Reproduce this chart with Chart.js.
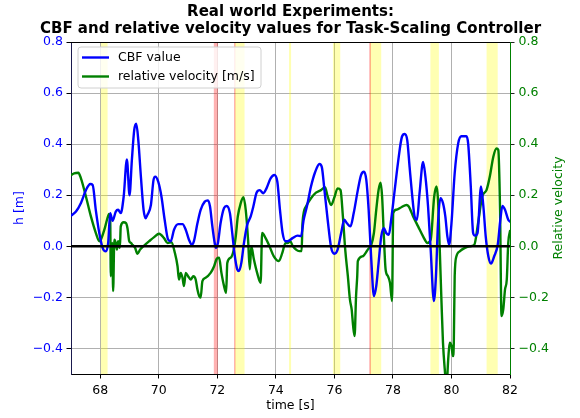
<!DOCTYPE html>
<html>
<head>
<meta charset="utf-8">
<script src="https://cdn.jsdelivr.net/npm/chart.js@4.4.1/dist/chart.umd.min.js"></script>
<style>
html,body{margin:0;padding:0;background:#fff;}
#c{display:block;}
</style>
</head>
<body>
<canvas id="c" width="580" height="418"></canvas>
<script>
// ---------------- data ----------------
const titleLines = ["Real world Experiments:", "CBF and relative velocity values for Task-Scaling Controller"];
const xTickValues = [68, 70, 72, 74, 76, 78, 80, 82];
const yTickValues = [-0.4, -0.2, 0.0, 0.2, 0.4, 0.6, 0.8];

const cbfTime = [67.0,67.17,67.34,67.51,67.66,67.74,67.85,67.97,68.08,68.19,68.27,68.34,68.42,68.53,68.61,68.70,68.80,68.91,69.00,69.08,69.16,69.23,69.30,69.39,69.48,69.55,69.61,69.73,69.82,69.88,69.98,70.09,70.20,70.32,70.41,70.52,70.66,70.81,70.92,71.03,71.13,71.20,71.32,71.43,71.57,71.68,71.75,71.83,71.91,71.95,72.02,72.11,72.23,72.32,72.43,72.51,72.59,72.68,72.74,72.82,72.91,73.02,73.14,73.23,73.34,73.45,73.57,73.68,73.82,73.95,74.05,74.14,74.23,74.33,74.40,74.57,74.74,74.86,74.95,75.06,75.20,75.34,75.49,75.57,75.66,75.77,75.89,76.00,76.11,76.23,76.34,76.43,76.55,76.66,76.80,76.91,77.01,77.09,77.17,77.26,77.35,77.43,77.51,77.60,77.69,77.77,77.86,77.94,78.06,78.17,78.31,78.40,78.49,78.57,78.65,78.74,78.82,78.91,79.03,79.11,79.20,79.29,79.40,79.47,79.54,79.62,79.71,79.79,79.86,79.92,80.00,80.11,80.23,80.34,80.51,80.57,80.66,80.74,80.80,80.89,81.01,81.09,81.17,81.26,81.35,81.46,81.58,81.67,81.74,81.83,81.94,82.00];
const cbfValue = [0.12,0.136,0.17,0.22,0.244,0.24,0.14,0.05,-0.006,-0.02,0.013,0.13,0.10,0.136,0.143,0.13,0.195,0.34,0.20,0.338,0.455,0.48,0.415,0.27,0.143,0.11,0.123,0.162,0.26,0.273,0.253,0.195,0.104,0.026,0.02,0.065,0.087,0.087,0.065,0.026,0.006,0.02,0.09,0.143,0.175,0.18,0.156,0.078,0.013,-0.006,0.013,0.09,0.15,0.158,0.13,0.052,-0.032,-0.09,-0.097,-0.065,0.013,0.084,0.117,0.156,0.21,0.22,0.208,0.227,0.266,0.279,0.253,0.143,0.052,0.02,0.02,0.032,0.042,0.04,0.104,0.156,0.234,0.29,0.322,0.31,0.22,0.104,-0.006,-0.029,-0.013,0.052,0.104,0.09,0.078,0.13,0.22,0.279,0.292,0.26,0.143,-0.052,-0.195,-0.156,-0.065,0.039,0.071,0.052,0.045,0.104,0.22,0.325,0.43,0.44,0.415,0.31,0.208,0.117,0.104,0.208,0.33,0.273,0.156,-0.013,-0.214,-0.117,0.09,0.188,0.169,0.117,0.039,0.006,0.09,0.286,0.403,0.431,0.431,0.403,0.234,0.052,0.042,0.052,0.234,0.156,0.039,-0.039,-0.068,-0.039,0.006,0.104,0.158,0.143,0.104,0.097];

const velTime = [67.0,67.11,67.25,67.34,67.51,67.68,67.85,67.97,68.02,68.14,68.23,68.30,68.34,68.36,68.41,68.44,68.48,68.53,68.57,68.61,68.67,68.70,68.80,68.88,68.93,68.99,69.05,69.10,69.19,69.27,69.36,69.50,69.67,69.84,70.01,70.18,70.30,70.43,70.55,70.64,70.69,70.75,70.81,70.86,70.92,71.00,71.09,71.18,71.26,71.32,71.38,71.43,71.49,71.60,71.77,71.89,71.98,72.06,72.14,72.23,72.30,72.34,72.45,72.55,72.63,72.70,72.80,72.89,72.97,73.05,73.11,73.16,73.25,73.36,73.48,73.53,73.65,73.76,73.93,74.10,74.22,74.33,74.40,74.49,74.57,74.69,74.80,74.88,74.91,75.03,75.20,75.37,75.54,75.68,75.77,75.89,76.00,76.11,76.21,76.29,76.37,76.46,76.53,76.59,76.64,76.69,76.74,76.78,76.80,76.97,77.14,77.26,77.35,77.43,77.51,77.58,77.63,77.69,77.75,77.83,77.90,77.97,78.01,78.11,78.29,78.46,78.54,78.69,78.86,79.03,79.18,79.29,79.41,79.49,79.54,79.60,79.66,79.71,79.77,79.83,79.89,79.94,80.00,80.05,80.08,80.11,80.17,80.29,80.46,80.63,80.78,80.91,81.05,81.20,81.31,81.43,81.54,81.60,81.66,81.71,81.77,81.83,81.89,81.94,82.00];
const velValue = [0.279,0.286,0.288,0.266,0.195,0.117,0.052,0.02,0.026,0.065,0.104,0.127,0.104,-0.117,0.013,-0.175,0.026,0.013,-0.013,0.02,-0.006,0.078,0.094,0.091,0.071,0.02,0.013,0.006,-0.006,-0.029,-0.013,0.003,0.02,0.036,0.049,0.032,0.013,0.016,-0.026,-0.078,-0.13,-0.104,-0.123,-0.156,-0.104,-0.117,-0.13,-0.117,-0.13,-0.169,-0.195,-0.201,-0.136,-0.123,-0.104,-0.078,-0.049,-0.045,-0.104,-0.156,-0.182,-0.065,-0.045,-0.019,0.039,0.117,0.169,0.192,0.143,0.026,-0.09,0.0,-0.052,-0.104,-0.143,0.052,0.032,0.006,-0.039,-0.058,-0.026,0.013,0.013,0.02,0.003,-0.013,-0.019,-0.019,0.091,0.156,0.188,0.21,0.22,0.231,0.195,0.162,0.192,0.227,0.22,0.117,-0.013,-0.117,-0.208,-0.247,-0.312,-0.351,-0.195,-0.117,-0.058,-0.039,-0.013,0.006,0.052,0.143,0.221,0.249,0.195,0.039,-0.091,-0.117,-0.143,-0.214,0.13,0.143,0.153,0.162,0.156,0.117,0.078,0.039,0.013,0.026,0.195,0.234,0.182,-0.013,-0.221,-0.377,-0.48,-0.55,-0.44,-0.377,-0.39,-0.43,-0.377,-0.117,-0.039,-0.019,-0.006,0.0,0.006,0.091,0.195,0.221,0.273,0.351,0.383,0.377,0.143,-0.273,-0.247,-0.169,-0.13,0.013,0.06];

const yellowStart = [68.02, 72.60, 74.45, 75.95, 77.22, 79.28, 81.20];
const yellowEnd   = [68.25, 72.93, 74.52, 76.20, 77.60, 79.57, 81.58];
const redStart = [71.88, 72.57, 77.19];
const redEnd   = [72.02, 72.62, 77.25];

// ---------------- drawing ----------------
const FONT = "'DejaVu Sans', 'Liberation Sans', sans-serif";
const BLUE = '#0000ff';
const GREEN = '#008000';

function pts(xs, ys){ return xs.map((x,i)=>({x:x, y:ys[i]})); }

const decor = {
  id: 'decor',
  beforeDatasetsDraw(chart){
    const {ctx, chartArea:a, scales:{x}} = chart;
    ctx.save();
    ctx.beginPath(); ctx.rect(a.left, a.top, a.right-a.left, a.bottom-a.top); ctx.clip();
    ctx.fillStyle = 'rgba(255,255,0,0.3)';
    yellowStart.forEach((s,i)=>{
      const x1 = x.getPixelForValue(s), x2 = x.getPixelForValue(yellowEnd[i]);
      ctx.fillRect(x1, a.top, x2-x1, a.bottom-a.top);
    });
    ctx.fillStyle = 'rgba(255,0,0,0.3)';
    redStart.forEach((s,i)=>{
      const x1 = x.getPixelForValue(s), x2 = x.getPixelForValue(redEnd[i]);
      ctx.fillRect(x1, a.top, x2-x1, a.bottom-a.top);
    });
    ctx.restore();
  },
  afterDatasetsDraw(chart){
    const {ctx, chartArea:a, scales:{y}} = chart;
    const y0 = y.getPixelForValue(0);
    ctx.save();
    ctx.strokeStyle = '#000'; ctx.lineWidth = 2.5;
    ctx.beginPath(); ctx.moveTo(a.left, y0); ctx.lineTo(a.right, y0); ctx.stroke();
    ctx.restore();
  },
  afterDraw(chart){
    const {ctx, chartArea:a} = chart;
    ctx.save();
    // top spine
    ctx.strokeStyle = '#000'; ctx.lineWidth = 1;
    ctx.beginPath(); ctx.moveTo(a.left, a.top+0.5); ctx.lineTo(a.right, a.top+0.5); ctx.stroke();
    // title
    const cx = (a.left + a.right)/2;
    ctx.fillStyle = '#000';
    ctx.font = 'bold 15px ' + FONT;
    ctx.textAlign = 'center'; ctx.textBaseline = 'middle';
    ctx.fillText(titleLines[0], cx, 12);
    ctx.fillText(titleLines[1], cx, 29);
    // axis titles
    ctx.font = '12.5px ' + FONT;
    ctx.fillStyle = '#000';
    ctx.fillText('time [s]', cx, 406);
    const cy = (a.top + a.bottom)/2;
    ctx.save(); ctx.translate(20, cy); ctx.rotate(-Math.PI/2);
    ctx.fillStyle = BLUE; ctx.fillText('h [m]', 0, 0); ctx.restore();
    ctx.save(); ctx.translate(559, cy); ctx.rotate(-Math.PI/2);
    ctx.fillStyle = GREEN; ctx.fillText('Relative velocity', 0, 0); ctx.restore();
    // legend
    const lx = 78, ly = 47, lw = 183, lh = 41, r = 3;
    ctx.beginPath();
    ctx.moveTo(lx+r, ly); ctx.lineTo(lx+lw-r, ly); ctx.arcTo(lx+lw, ly, lx+lw, ly+r, r);
    ctx.lineTo(lx+lw, ly+lh-r); ctx.arcTo(lx+lw, ly+lh, lx+lw-r, ly+lh, r);
    ctx.lineTo(lx+r, ly+lh); ctx.arcTo(lx, ly+lh, lx, ly+lh-r, r);
    ctx.lineTo(lx, ly+r); ctx.arcTo(lx, ly, lx+r, ly, r); ctx.closePath();
    ctx.fillStyle = 'rgba(255,255,255,0.8)'; ctx.fill();
    ctx.strokeStyle = '#d0d0d0'; ctx.lineWidth = 1; ctx.stroke();
    chart.data.datasets.forEach((ds, i)=>{
      const yy = 57.5 + i*19;
      ctx.strokeStyle = ds.borderColor; ctx.lineWidth = 2.4;
      ctx.beginPath(); ctx.moveTo(82, yy); ctx.lineTo(109, yy); ctx.stroke();
      ctx.fillStyle = '#000'; ctx.textAlign = 'left'; ctx.textBaseline = 'middle';
      ctx.font = '12.5px ' + FONT;
      ctx.fillText(ds.label, 118, yy);
    });
    ctx.restore();
  }
};

new Chart(document.getElementById('c'), {
  type: 'line',
  data: {
    datasets: [
      {label: 'CBF value', data: pts(cbfTime, cbfValue), borderColor: BLUE, borderWidth: 2.4, pointRadius: 0, cubicInterpolationMode: 'monotone', borderJoinStyle: 'round', borderCapStyle: 'round', yAxisID: 'y'},
      {label: 'relative velocity [m/s]', data: pts(velTime, velValue), borderColor: GREEN, borderWidth: 2.4, pointRadius: 0, cubicInterpolationMode: 'monotone', borderJoinStyle: 'round', borderCapStyle: 'round', yAxisID: 'y2'}
    ]
  },
  options: {
    responsive: false,
    animation: false,
    devicePixelRatio: 1,
    layout: {padding: {top: 42, left: 0, right: 0, bottom: 0}},
    plugins: {legend: {display: false}, title: {display: false}, tooltip: {enabled: false}},
    scales: {
      x: {
        type: 'linear', min: 67, max: 82,
        afterBuildTicks: s => { s.ticks = xTickValues.map(v=>({value:v})); },
        afterFit: s => { s.height = 44; },
        grid: {color: '#b0b0b0', lineWidth: 1, tickLength: 4.5, tickColor: '#000', drawTicks: true},
        border: {color: '#000', width: 1},
        ticks: {color: '#000', font: {family: FONT, size: 12.5}, padding: 4.5, maxRotation: 0, autoSkip: false, callback: v => String(v)}
      },
      y: {
        position: 'left', min: -0.5, max: 0.8,
        afterBuildTicks: s => { s.ticks = yTickValues.map(v=>({value:v})); },
        afterFit: s => { s.width = 71; },
        grid: {color: '#b0b0b0', lineWidth: 1, tickLength: 4.5, tickColor: '#000'},
        border: {color: '#1a1a4e', width: 1},
        ticks: {color: BLUE, font: {family: FONT, size: 12.5}, padding: 3.5, callback: v => (v < 0 ? '\u2212' + Math.abs(v).toFixed(1) : v.toFixed(1))}
      },
      y2: {
        position: 'right', min: -0.5, max: 0.8,
        afterBuildTicks: s => { s.ticks = yTickValues.map(v=>({value:v})); },
        afterFit: s => { s.width = 70; },
        grid: {drawOnChartArea: false, tickLength: 4.5, tickColor: '#222'},
        border: {color: GREEN, width: 1},
        ticks: {color: GREEN, font: {family: FONT, size: 12.5}, padding: 4, callback: v => (v < 0 ? '\u2212' + Math.abs(v).toFixed(1) : v.toFixed(1))}
      }
    }
  },
  plugins: [decor]
});
</script>
</body>
</html>
